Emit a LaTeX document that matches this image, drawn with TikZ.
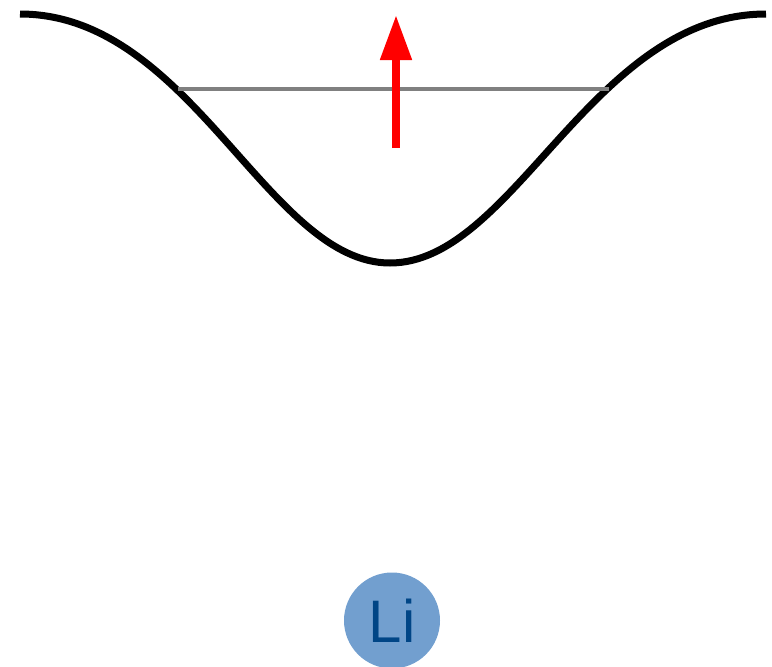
\documentclass[tikz,border=0pt]{standalone}
\usepackage{fontspec}
\setmainfont{Liberation Sans}
\usetikzlibrary{arrows.meta}
\definecolor{wellgray}{RGB}{128,128,128}
\definecolor{liblue}{RGB}{114,159,207}
\definecolor{lidark}{RGB}{0,69,134}
\begin{document}
\begin{tikzpicture}[x=1pt,y=-1pt]
			\useasboundingbox (0,0) rectangle (772,667);
			% the potential well
			\draw[line width=7pt] (20,14) .. controls (191,14) and (268,263) .. (390,263)
				.. controls (514,263) and (592,14) .. (766,14);
			% level inside the well
			\coordinate (levelL) at (178,89);
			\coordinate (levelR) at (609,89);
			\draw[wellgray,line width=3.3pt] (levelL) -- (levelR);
			% the push upwards
			\coordinate (pushfoot) at (396,148);
			\coordinate (pushtip) at (396,15);
			\draw[red,line width=8pt,-{Triangle[length=45pt,width=30pt]}] (pushfoot) -- (pushtip);
			% the lithium ion
			\node[circle,fill=liblue,minimum size=96pt,inner sep=0pt,text=lidark,font=\fontsize{60}{60}\selectfont] (li) at (392,620.5) {Li};
		\end{tikzpicture}
\end{document}
